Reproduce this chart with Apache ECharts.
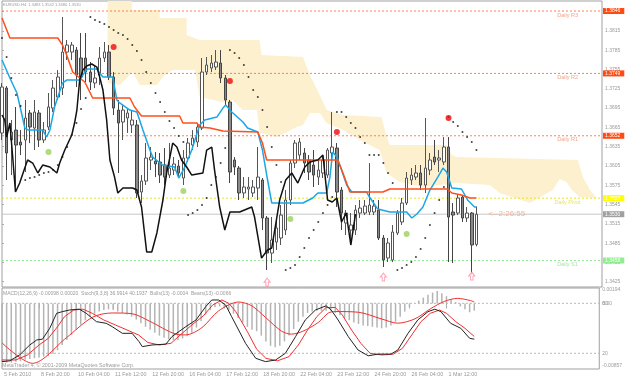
<!DOCTYPE html>
<html>
<head>
<meta charset="utf-8">
<script src="https://cdn.jsdelivr.net/npm/echarts@6.0.0/dist/echarts.min.js"></script>
<style>
html,body{margin:0;padding:0;background:#ffffff;}
#chart{width:625px;height:381px;}
</style>
</head>
<body>
<div id="chart"></div>
<script>
// ---------- axis labels ----------
const timeLabels = ['5 Feb 2010','8 Feb 20:00','10 Feb 04:00','11 Feb 12:00','12 Feb 20:00','16 Feb 04:00','17 Feb 12:00','18 Feb 20:00','22 Feb 04:00','23 Feb 12:00','24 Feb 20:00','26 Feb 04:00','1 Mar 12:00'];
const timeLabelBars = [0,8,16,24,32,40,48,56,64,72,80,88,96];
const priceTicks = [1.3425,1.3455,1.3485,1.3515,1.3545,1.3575,1.3605,1.3635,1.3665,1.3695,1.3725,1.3755,1.3785,1.3815,1.3845];
const macdTicks = [0.00194, 0, -0.00857];
const stochTicks = [80, 20];

// ---------- EURUSD H4 candles: [open, close, low, high] ----------
const ohlc = [
[1.36563,1.37278,1.36454,1.37340],[1.37262,1.36252,1.35832,1.37293],[1.36454,1.36578,1.35909,1.36765],[1.36609,1.36376,1.35723,1.36967],
[1.36423,1.36376,1.36220,1.36609],[1.36454,1.36796,1.35956,1.37076],[1.36874,1.36656,1.36407,1.36920],[1.36640,1.36889,1.36298,1.37076],
[1.36874,1.36454,1.36345,1.36920],[1.36454,1.36609,1.36407,1.36734],[1.36656,1.36967,1.36609,1.37185],[1.36951,1.37262,1.36889,1.37387],
[1.37122,1.37434,1.37076,1.37542],[1.37262,1.37822,1.37154,1.38367],[1.37822,1.37931,1.37698,1.38009],[1.37822,1.37931,1.37698,1.37978],
[1.37853,1.37465,1.37278,1.37900],[1.37729,1.37434,1.37076,1.38118],[1.37729,1.37511,1.37356,1.38118],[1.37511,1.37356,1.37231,1.37667],
[1.37340,1.37418,1.37262,1.37620],[1.37465,1.37729,1.37309,1.37900],[1.37729,1.37822,1.37667,1.37978],[1.37822,1.37434,1.37387,1.37931],
[1.37434,1.36951,1.36843,1.37511],[1.36920,1.36718,1.35941,1.37076],[1.36734,1.36920,1.36454,1.36998],[1.36796,1.36874,1.36563,1.36951],
[1.36687,1.36765,1.36563,1.36920],[1.36687,1.35630,1.35552,1.36765],[1.35645,1.35816,1.35474,1.35909],[1.35816,1.36174,1.35754,1.36407],
[1.36143,1.36189,1.35987,1.36345],[1.36127,1.36081,1.35878,1.36267],[1.36112,1.35909,1.35785,1.36252],[1.36065,1.35878,1.35754,1.36329],
[1.35909,1.36018,1.35863,1.36407],[1.35987,1.36081,1.35909,1.36189],[1.36049,1.35941,1.35863,1.36143],[1.35863,1.36174,1.35754,1.36298],
[1.36174,1.36407,1.36112,1.36485],[1.36376,1.36485,1.36298,1.36609],[1.36423,1.36656,1.36345,1.36718],[1.36640,1.37511,1.36609,1.37729],
[1.37511,1.37620,1.37465,1.37745],[1.37573,1.37651,1.37511,1.37776],[1.37589,1.37667,1.37542,1.37853],[1.37651,1.37418,1.37340,1.37853],
[1.37418,1.37076,1.36998,1.37465],[1.37045,1.35956,1.35785,1.37076],[1.36143,1.36034,1.35909,1.36189],[1.36018,1.35630,1.35521,1.36049],
[1.35630,1.35723,1.35552,1.35878],[1.35692,1.35723,1.35521,1.35878],[1.35630,1.35723,1.35567,1.35832],[1.35707,1.35878,1.35521,1.36345],
[1.35832,1.35241,1.35054,1.35863],[1.35241,1.34696,1.34432,1.35272],[1.34696,1.34899,1.34541,1.35256],[1.34867,1.35085,1.34743,1.35210],
[1.34930,1.35287,1.34821,1.35443],[1.35054,1.35521,1.34976,1.35676],[1.35521,1.36096,1.35443,1.36143],[1.36096,1.36407,1.36018,1.36454],
[1.36220,1.36423,1.36143,1.36485],[1.36252,1.36096,1.35941,1.36329],[1.36143,1.35956,1.35832,1.36220],[1.36065,1.35909,1.35723,1.36298],
[1.35878,1.35987,1.35754,1.36143],[1.35941,1.36143,1.35863,1.36220],[1.35909,1.36298,1.35863,1.36329],[1.36252,1.36345,1.36143,1.36889],
[1.36329,1.35645,1.35412,1.36407],[1.35676,1.35318,1.35054,1.35723],[1.35163,1.35318,1.34976,1.35365],[1.35054,1.35132,1.34852,1.35318],
[1.35054,1.35365,1.34976,1.35443],[1.35318,1.35396,1.35241,1.35521],[1.35318,1.35427,1.35287,1.35521],[1.35334,1.35443,1.35287,1.36096],
[1.35334,1.35427,1.35287,1.35521],[1.35365,1.34930,1.34899,1.35521],[1.34930,1.34588,1.34479,1.34976],[1.34619,1.34852,1.34556,1.34930],
[1.34588,1.35023,1.34556,1.35132],[1.35007,1.35318,1.34976,1.35365],[1.35179,1.35474,1.35132,1.35552],[1.35474,1.35863,1.35443,1.35956],
[1.35832,1.35909,1.35754,1.36018],[1.35878,1.35941,1.35832,1.36065],[1.35941,1.35754,1.35676,1.36065],[1.35754,1.36018,1.35630,1.36796],
[1.35987,1.36143,1.35909,1.36252],[1.36189,1.36112,1.36065,1.36454],[1.36143,1.36174,1.35956,1.36298],[1.36112,1.36345,1.36065,1.36500],
[1.36345,1.35256,1.34556,1.36500],[1.35334,1.35287,1.34541,1.35474],[1.35318,1.35552,1.35287,1.35598],[1.35567,1.35241,1.35179,1.35598],
[1.35241,1.35318,1.35179,1.35412],[1.35318,1.34821,1.34354,1.35334],[1.3483,1.3530,1.3480,1.3542]
];

// ---------- Parabolic SAR, one per bar ----------
const psar = [1.38040,1.37745,1.37418,1.37154,1.36982,1.35832,1.35863,1.35878,1.35909,1.35941,1.35956,1.35987,1.36065,1.36189,1.36345,1.36532,1.36718,1.36936,1.37107,
1.38367,1.38320,1.38289,1.38258,1.38211,1.38164,1.38118,1.38087,1.38024,1.37931,1.37838,1.37698,1.37511,1.37340,1.37185,1.37045,1.36889,1.36749,1.36640,1.36516,1.36423,
1.35287,1.35318,1.35365,1.35443,1.35552,1.35754,1.35878,1.36096,1.36329,
1.37853,1.37807,1.37729,1.37620,1.37434,1.37231,1.37122,1.36920,1.36656,1.36345,1.36065,1.35801,
1.34432,1.34463,1.34510,1.34634,1.34774,1.34930,1.35054,1.35179,1.35318,1.35443,1.35567,
1.36889,1.36889,1.36811,1.36718,1.36640,1.36500,1.36407,1.36220,1.36220,1.36220,1.36096,1.35941,1.35785,
1.34432,1.34463,1.34510,1.34556,1.34634,1.34759,1.34930,1.35132,1.35318,1.35521,1.35723,
1.36811,1.36734,1.36671,1.36578,1.36500,1.36423,1.36298];

// ---------- Ichimoku lines: [bar, price] ----------
const tenkan = [[0,1.37698],[1.7,1.37418],[3.2,1.37185],[4.2,1.36874],[4.9,1.36640],[5.7,1.36609],[8.75,1.36609],[9.6,1.36500],[10.3,1.36609],[11.3,1.36967],[13,1.37340],[13.9,1.37387],[16.7,1.37387],[17.8,1.37511],[18.4,1.37558],[20.4,1.37558],[21,1.37496],[21.7,1.37434],[23.8,1.37434],[24.7,1.37076],[25.3,1.37030],[27.5,1.36920],[29,1.36889],[30.3,1.36609],[31.8,1.36298],[32.4,1.36189],[34.5,1.36065],[37.1,1.36034],[38,1.35863],[39.3,1.36034],[40.8,1.36298],[42.5,1.36687],[43.6,1.36765],[46.2,1.36811],[47.5,1.36951],[48.1,1.36998],[49.4,1.36889],[51.8,1.36734],[52.8,1.36640],[55,1.36578],[56,1.36298],[57.1,1.35832],[58,1.35474],[64.7,1.35474],[66.8,1.35552],[67.9,1.35630],[69.8,1.35630],[70.5,1.35878],[71.1,1.36267],[72,1.36189],[73,1.35987],[74.1,1.35754],[75.2,1.35645],[78.4,1.35645],[79,1.35567],[80.8,1.35380],[83.4,1.35334],[87,1.35334],[88.1,1.35241],[89.2,1.35303],[90.5,1.35412],[92,1.35676],[93.7,1.35878],[94.8,1.36018],[95.6,1.35956],[96.7,1.35707],[98.8,1.35692],[100.1,1.35521],[101.6,1.35412],[102,1.35412]];
const kijun = [[0,1.38351],[1.7,1.38040],[12,1.38040],[13,1.37931],[13.9,1.37776],[15.2,1.37511],[16.7,1.37418],[17.8,1.37356],[19.5,1.37107],[27.5,1.37107],[28.5,1.36967],[30,1.36827],[38.2,1.36827],[38.9,1.36718],[41.9,1.36718],[42.5,1.36656],[44.7,1.36640],[47.5,1.36594],[55,1.36578],[56,1.36407],[56.9,1.36143],[72.2,1.36143],[73.3,1.35941],[74.8,1.35645],[81.9,1.35645],[83.4,1.35692],[95.8,1.35692],[96.7,1.35630],[98.8,1.35598],[100.6,1.35552],[102,1.35552]];
const chikou = [[0,1.36843],[0.6,1.36765],[1,1.36500],[1.7,1.36718],[2.3,1.36189],[2.9,1.35645],[3.8,1.35785],[4.9,1.36018],[5.5,1.36143],[6.6,1.36096],[7.7,1.35941],[8.75,1.36065],[10.3,1.36034],[11.8,1.35941],[12.4,1.36096],[13.5,1.36298],[15,1.36532],[15.6,1.36718],[16.1,1.36920],[16.7,1.37387],[17.4,1.37542],[18.2,1.37604],[19.3,1.37636],[20.4,1.37589],[21,1.37434],[21.7,1.37231],[22.5,1.36765],[23.2,1.36143],[24.2,1.35878],[24.9,1.35630],[26,1.35707],[28.1,1.35707],[29,1.35676],[30,1.35412],[31.1,1.34713],[32.2,1.34713],[33.3,1.35008],[34.6,1.35521],[35.4,1.35941],[36.1,1.36189],[36.7,1.36407],[37.6,1.36345],[38.6,1.36143],[39.7,1.36034],[40.8,1.35909],[43.2,1.35941],[44,1.36298],[45.1,1.36345],[45.7,1.35987],[46.8,1.35412],[47.9,1.35055],[49,1.35334],[51.1,1.35334],[53.7,1.35412],[54.3,1.35256],[55.8,1.34619],[57.1,1.34744],[58,1.34775],[59.7,1.35521],[61,1.35832],[62.3,1.35941],[63.6,1.35785],[65.1,1.36034],[66.2,1.36112],[67.9,1.36143],[69,1.36220],[70,1.35521],[71,1.35490],[72,1.35552],[73,1.35179],[74,1.35318],[75,1.34821],[76,1.3530]];
// Kumo (cloud) edges, shifted 26 bars ahead
const kumoTop = [[22.7,1.3862],[27.9,1.3862],[27.9,1.38475],[33.9,1.38475],[33.9,1.38351],[39.7,1.38351],[39.7,1.38087],[42.5,1.38009],[55.4,1.38009],[55.8,1.37776],[64.7,1.37745],[66.2,1.37465],[68.3,1.37154],[69.8,1.36920],[73.3,1.36843],[81.6,1.36811],[82.7,1.36500],[83.4,1.36376],[95.6,1.36376],[96.7,1.36220],[97.8,1.36189],[123.8,1.36143],[124.9,1.35878],[126.4,1.35676],[127.9,1.35552]];
const kumoBottom = [[22.7,1.37340],[25.3,1.37309],[28.1,1.37511],[29.6,1.37309],[33.3,1.37309],[35,1.37465],[36.7,1.37542],[41.5,1.37542],[42.5,1.37122],[48.3,1.37030],[49.6,1.37076],[51.8,1.36920],[54.8,1.36920],[55.4,1.36563],[59.1,1.36500],[63.4,1.36656],[64.7,1.36687],[66.2,1.36874],[68.3,1.36874],[69.8,1.36718],[73.3,1.36609],[76.9,1.36454],[81.2,1.36298],[82.7,1.35941],[85.5,1.35801],[90.4,1.35723],[97.8,1.35785],[104.9,1.35754],[107,1.35630],[113.5,1.35474],[118.4,1.35676],[119.9,1.35847],[121.4,1.35801],[122.5,1.35676],[124.2,1.35567],[127.9,1.35552]];

// ---------- other markers ----------
const redDots = [[24,1.37900],[49,1.37371],[72,1.36578],[96,1.36796]];
const greenDots = [[10,1.36267],[39,1.35661],[62,1.35225],[87,1.34992]];
const upArrows = [[57,1.34245],[82,1.34323],[101,1.34339]];
const levelNames = ['Daily R3','Daily R2','Daily R1','Daily Pivot','Daily S1'];
const levelPrices = [1.3846, 1.3749, 1.3652, 1.3555, 1.3458];
const lastPrice = 1.3530;
const timerText = '<--2:26:55';

// ---------- MACD / Stochastic sub-window ----------
const macdHist = [-0.0080,-0.0081,-0.0081,-0.0080,-0.0079,-0.0077,-0.0076,-0.0075,-0.0074,-0.0073,-0.0072,-0.0069,-0.0064,-0.0057,-0.0050,-0.0043,-0.0036,-0.0029,-0.0023,-0.0018,
-0.0014,-0.0011,-0.0009,-0.0008,-0.0009,-0.0011,-0.0013,-0.0015,-0.0018,-0.0022,-0.0027,-0.0032,-0.0036,-0.0040,-0.0044,-0.0047,-0.0049,-0.0050,-0.0050,-0.0048,
-0.0045,-0.0040,-0.0033,-0.0024,-0.0015,-0.0009,-0.0005,-0.0004,-0.0006,-0.0009,-0.0014,-0.0020,-0.0026,-0.0032,-0.0036,-0.0038,-0.0044,-0.0052,-0.0058,-0.0060,
-0.0058,-0.0052,-0.0044,-0.0035,-0.0025,-0.0018,-0.0013,-0.0011,-0.0010,-0.0010,-0.0010,-0.0010,-0.0013,-0.0016,-0.0020,-0.0023,-0.0026,-0.0028,-0.0030,-0.0031,
-0.0032,-0.0033,-0.0034,-0.0033,-0.0030,-0.0025,-0.0018,-0.0011,-0.0005,0.0000,0.0004,0.0008,0.0012,0.0015,0.0017,0.0014,0.0010,0.0005,0.0002,-0.0004,
-0.0008,-0.0012,-0.00098];
const macdSignal = [[0,-0.0054],[6.6,-0.0082],[13.9,-0.0047],[19.5,-0.0019],[23.8,-0.0013],[28.1,-0.0014],[31.8,-0.0024],[37.6,-0.0042],[39.7,-0.0043],[43.2,-0.0033],[46.8,-0.0010],[51.1,0.0002],[53.9,-0.0003],[56.9,-0.0019],[60.4,-0.0038],[62.5,-0.0042],[65,-0.0038],[68.3,-0.0026],[70.5,-0.0013],[72,-0.0011],[77,-0.0012],[81.9,-0.0021],[85.5,-0.0027],[89.2,-0.0021],[92.6,-0.0007],[95.6,0.0003],[98.4,0.0007],[101.2,0.0004],[102,0.0002]];
const stochMain = [[0,10],[1.7,11],[3.8,18],[6,30],[7.5,36],[8.75,37],[10.3,50],[11.8,68],[13,70],[14.6,72],[16.7,73],[18.2,68],[20.4,58],[22.5,56],[23.8,52],[26,44],[28.1,44],[29.6,34],[30.3,28],[32.4,30],[35.4,31],[36.7,40],[39.7,52],[41.9,60],[44,76],[45.3,84],[46.8,84],[48.3,78],[49.6,64],[52.6,32],[54.8,14],[56.9,10],[59.1,12],[61.2,20],[63.4,40],[65.5,60],[67.7,72],[70,77],[71.1,72],[72.6,60],[74.8,40],[76.9,24],[79.1,17],[81.2,19],[84,19],[85.5,24],[87.7,44],[89.8,60],[92,70],[93.5,73],[94.8,70],[96.9,56],[99.1,50],[101,38],[102,36.99]];
const stochSignal = [[0,12],[3,12],[5.5,18],[8,30],[10,38],[12,52],[13.5,64],[15.5,72],[17.5,73],[19.5,68],[22,60],[24.5,54],[27,48],[29.5,42],[31.5,33],[34,30],[36.5,32],[38.5,42],[41,54],[43.5,65],[45.5,78],[47.5,84],[49,80],[50.5,70],[53,46],[55,25],[57,14],[59.5,11],[62,16],[64,30],[66,48],[68,64],[70,75],[72,75],[73.5,66],[75.5,48],[77.5,32],[79.5,20],[82,18],[84.5,19],[86.5,26],[88.5,42],[90.5,58],[92.5,68],[94.5,72],[96,68],[98,58],[100,50],[102,40.19]];

// ---------- build chart ----------
const FONT = '"Liberation Sans Narrow","Liberation Sans",Arial,sans-serif';
const TXT = '#9a9a9a';
const LAST_BAR = 129;
const levelStyle = [
  {line:'#ff7f50', text:'#f08a6a', box:'#ff4a12'},
  {line:'#ff7f50', text:'#f08a6a', box:'#ff4a12'},
  {line:'#ff7f50', text:'#f08a6a', box:'#ff4a12'},
  {line:'#e6e61e', text:'#dede3a', box:'#ffff00'},
  {line:'#98e898', text:'#9ad89a', box:'#90ee90'}
];
const boxPad = [1,4,0,2];

const series = [
  {type:'custom', name:'kumo', xAxisIndex:0, yAxisIndex:0, clip:true, silent:true, z:1, data:[0],
   renderItem:(params, api) => {
     const pts = kumoTop.map(p => api.coord(p)).concat(kumoBottom.slice().reverse().map(p => api.coord(p)));
     return {type:'polygon', shape:{points:pts}, style:{fill:'#fcf0cf', stroke:null}};
   }}
];
// pivot levels: dotted line with a price box at the right end
levelPrices.forEach((p, k) => {
  const s = levelStyle[k];
  series.push({type:'line', name:levelNames[k], xAxisIndex:0, yAxisIndex:0, z:2, silent:true, clip:false,
    data:[[0,p],[LAST_BAR,p]], showSymbol:false, lineStyle:{color:s.line, type:[2,2], width:1},
    endLabel:{show:true, formatter:p.toFixed(4), color:'#ffffff', backgroundColor:s.box, fontSize:5, fontFamily:FONT, padding:boxPad, distance:1}});
});
series.push({type:'line', name:'bid', xAxisIndex:0, yAxisIndex:0, z:2, silent:true, clip:false,
  data:[[0,lastPrice],[LAST_BAR,lastPrice]], showSymbol:false, lineStyle:{color:'#c8c8c8', width:1},
  endLabel:{show:true, formatter:lastPrice.toFixed(4), color:'#ffffff', backgroundColor:'#a0a0a0', fontSize:5, fontFamily:FONT, padding:boxPad, distance:1}});
// level captions
series.push({type:'scatter', name:'levelText', xAxisIndex:0, yAxisIndex:0, z:2, silent:true, symbolSize:0,
  data:levelPrices.map((p, k) => ({value:[121.6, p], label:{color:levelStyle[k].text}})),
  label:{show:true, position:'bottom', distance:1, formatter:pr => levelNames[pr.dataIndex], fontSize:5.5, fontFamily:FONT}});

series.push(
  {type:'candlestick', name:'EURUSD', xAxisIndex:0, yAxisIndex:0, z:3, barWidth:3,
   data:ohlc.map((c,i) => [i, c[0], c[1], c[2], c[3]]), encode:{x:0, y:[1,2,3,4]},
   itemStyle:{color:'#ffffff', color0:'#8a8a8a', borderColor:'#555555', borderColor0:'#444444', borderWidth:1}},
  {type:'line', name:'Tenkan', xAxisIndex:0, yAxisIndex:0, z:4, data:tenkan, showSymbol:false, lineStyle:{color:'#1aa7e6', width:1.5}},
  {type:'line', name:'Kijun', xAxisIndex:0, yAxisIndex:0, z:4, data:kijun, showSymbol:false, lineStyle:{color:'#ff4f1a', width:1.5}},
  {type:'line', name:'Chikou', xAxisIndex:0, yAxisIndex:0, z:4, data:chikou, showSymbol:false, lineStyle:{color:'#111111', width:1.5}},
  {type:'scatter', name:'SAR', xAxisIndex:0, yAxisIndex:0, z:5, data:psar.map((v,i) => [i,v]), symbolSize:2, itemStyle:{color:'#111111'}},
  {type:'scatter', name:'up', xAxisIndex:0, yAxisIndex:0, z:6, data:redDots, symbolSize:6, itemStyle:{color:'#ee0a0a'}},
  {type:'scatter', name:'dn', xAxisIndex:0, yAxisIndex:0, z:6, data:greenDots, symbolSize:6, itemStyle:{color:'#9bd25a'}},
  {type:'scatter', name:'arrows', xAxisIndex:0, yAxisIndex:0, z:6, data:upArrows, symbol:'path://M5,0 L10,5 L7,5 L7,10 L3,10 L3,5 L0,5 Z', symbolSize:[6,8], itemStyle:{color:'#ffffff', borderColor:'#ff8aa0', borderWidth:1}},
  {type:'scatter', name:'timer', xAxisIndex:0, yAxisIndex:0, z:6, data:[[104.6, lastPrice]], symbolSize:0, clip:false,
   label:{show:true, position:'right', distance:0, formatter:timerText, color:'#f5a07c', fontSize:8, fontFamily:FONT}},
  {type:'bar', name:'MACD', xAxisIndex:1, yAxisIndex:1, z:2, data:macdHist.map((v,i) => [i,v]), barWidth:1.5, itemStyle:{color:'#b4b4b4'}},
  {type:'line', name:'Signal', xAxisIndex:1, yAxisIndex:1, z:3, data:macdSignal, showSymbol:false, smooth:0.3, lineStyle:{color:'#f03030', width:1}},
  {type:'line', name:'StochMain', xAxisIndex:1, yAxisIndex:2, z:4, data:stochMain, showSymbol:false, lineStyle:{color:'#222222', width:1}},
  {type:'line', name:'StochSignal', xAxisIndex:1, yAxisIndex:2, z:3, data:stochSignal, showSymbol:false, lineStyle:{color:'#f03030', width:1}}
);
// stochastic 80 / 20 levels
stochTicks.forEach(v => {
  series.push({type:'line', name:'lvl'+v, xAxisIndex:1, yAxisIndex:2, z:1, silent:true, data:[[0,v],[LAST_BAR,v]], showSymbol:false,
    lineStyle:{color:'#b8b8b8', type:[2,2], width:1}});
});

const chart = echarts.init(document.getElementById('chart'), null, {renderer:'canvas'});
chart.setOption({
  animation:false,
  backgroundColor:'#ffffff',
  textStyle:{fontFamily:FONT},
  title:[
    {text:'EURUSD,H4  1.3483 1.3542 1.3480 1.3530', left:3, top:3, padding:0, textStyle:{fontSize:4, fontWeight:'normal', color:TXT, fontFamily:FONT}},
    {text:'MACD(12,26,9) -0.00098 0.00020  Stoch(9,3,8) 36.9914 40.1937  Bulls(13) -0.0004  Bears(13) -0.0066', left:3, top:291, padding:0, textStyle:{fontSize:5, fontWeight:'normal', color:TXT, fontFamily:FONT}},
    {text:'MetaTrader 4, \u00a9 2001-2009 MetaQuotes Software Corp.', left:2, top:363, padding:0, textStyle:{fontSize:5.3, fontWeight:'normal', color:TXT, fontFamily:FONT}}
  ],
  grid:[
    {left:2, top:1, width:600, height:286, show:true, borderColor:'#a0a0a0', borderWidth:1},
    {left:2, top:288, width:600, height:81, show:true, borderColor:'#a0a0a0', borderWidth:1}
  ],
  xAxis:[
    {type:'value', gridIndex:0, min:0, max:LAST_BAR, show:false},
    {type:'value', gridIndex:1, min:0, max:LAST_BAR, splitLine:{show:false}, axisLine:{show:false},
     axisTick:{show:true, customValues:timeLabelBars, length:5, lineStyle:{color:'#aaa'}},
     axisLabel:{customValues:timeLabelBars, formatter:v => timeLabels[timeLabelBars.indexOf(v)] || '', align:'left', margin:3, padding:[0,0,0,2], fontSize:5.4, color:TXT, fontFamily:FONT}}
  ],
  yAxis:[
    {type:'value', gridIndex:0, position:'right', min:1.34168, max:1.38616, splitLine:{show:false}, axisLine:{show:false},
     axisTick:{show:true, customValues:priceTicks, length:2, lineStyle:{color:'#aaa'}},
     axisLabel:{customValues:priceTicks, formatter:v => v.toFixed(4), fontSize:5, color:TXT, margin:3, fontFamily:FONT}},
    {type:'value', gridIndex:1, position:'right', min:-0.00898, max:0.002125, splitLine:{show:false}, axisLine:{show:false},
     axisTick:{show:false},
     axisLabel:{customValues:macdTicks, formatter:v => (v === 0 ? '0.00' : v.toFixed(5)), fontSize:5, color:TXT, margin:3, fontFamily:FONT}},
    {type:'value', gridIndex:1, position:'right', min:1.16, max:98.4, splitLine:{show:false}, axisLine:{show:false},
     axisTick:{show:false},
     axisLabel:{customValues:stochTicks, formatter:v => String(v), fontSize:5, color:TXT, margin:3, fontFamily:FONT}}
  ],
  series:series
});
</script>
</body>
</html>
